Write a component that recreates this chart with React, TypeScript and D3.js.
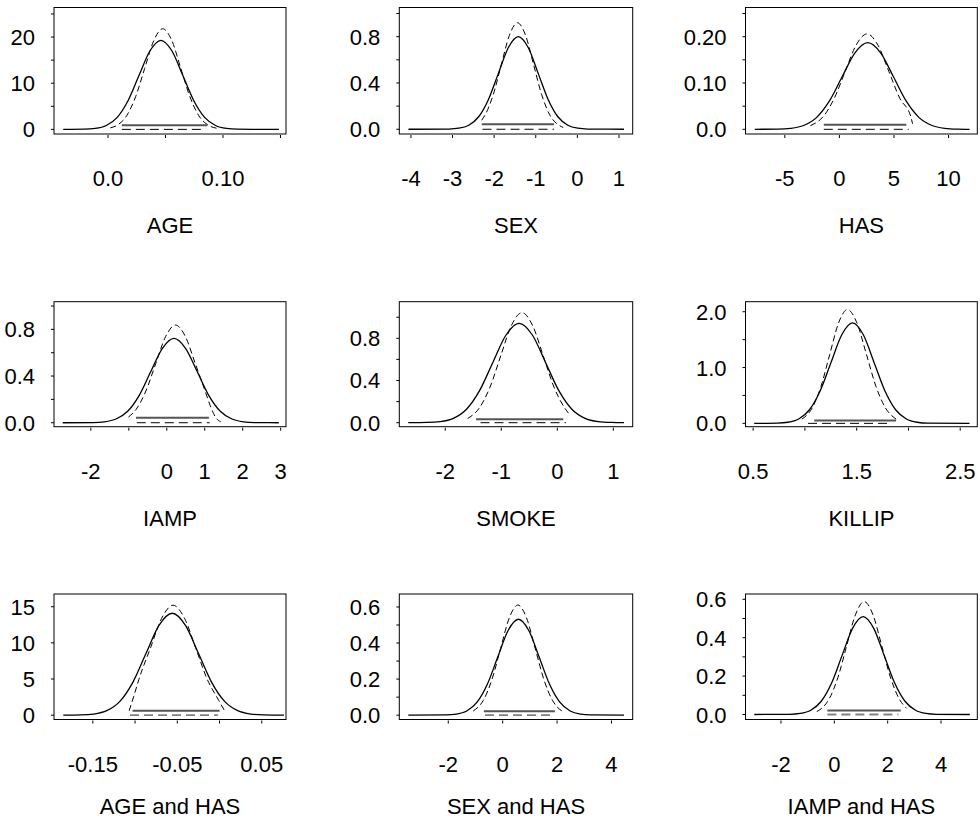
import React from "react";
import * as d3 from "d3";

// ---------- data ----------
const titles = ["AGE", "SEX", "HAS", "IAMP", "SMOKE", "KILLIP", "AGE and HAS", "SEX and HAS", "IAMP and HAS"];

const xDomains: [number, number][] = [
  [-0.047, 0.1548], [-4.28, 1.33], [-8.6, 12.63],
  [-2.97, 3.14], [-2.82, 1.346], [0.426, 2.665],
  [-0.196, 0.0787], [-3.8, 4.78], [-3.33, 5.36],
];
const yDomains: [number, number][] = [
  [-1.0, 26.4], [-0.041, 1.052], [-0.0101, 0.263],
  [-0.034, 1.037], [-0.038, 1.147], [-0.06, 2.18],
  [-0.6, 16.76], [-0.024, 0.672], [-0.026, 0.6276],
];
const xTicks: number[][] = [
  [0, 0.05, 0.1, 0.15], [-4, -3, -2, -1, 0, 1], [-5, 0, 5, 10],
  [-2, -1, 0, 1, 2, 3], [-2, -1, 0, 1], [0.5, 1, 1.5, 2, 2.5],
  [-0.15, -0.1, -0.05, 0, 0.05], [-2, 0, 2, 4], [-2, 0, 2, 4],
];
const xLabels: string[][] = [
  ["0.0", "0.10"], ["-4", "-3", "-2", "-1", "0", "1"], ["-5", "0", "5", "10"],
  ["-2", "0", "1", "2", "3"], ["-2", "-1", "0", "1"], ["0.5", "1.5", "2.5"],
  ["-0.15", "-0.05", "0.05"], ["-2", "0", "2", "4"], ["-2", "0", "2", "4"],
];
const yTicks: number[][] = [
  [0, 5, 10, 15, 20, 25], [0, 0.2, 0.4, 0.6, 0.8, 1.0], [0, 0.05, 0.1, 0.15, 0.2, 0.25],
  [0, 0.2, 0.4, 0.6, 0.8, 1.0], [0, 0.2, 0.4, 0.6, 0.8, 1.0], [0, 0.5, 1, 1.5, 2],
  [0, 5, 10, 15], [0, 0.1, 0.2, 0.3, 0.4, 0.5, 0.6], [0, 0.1, 0.2, 0.3, 0.4, 0.5, 0.6],
];
const yLabels: string[][] = [
  ["0", "10", "20"], ["0.0", "0.4", "0.8"], ["0.0", "0.10", "0.20"],
  ["0.0", "0.4", "0.8"], ["0.0", "0.4", "0.8"], ["0.0", "1.0", "2.0"],
  ["0", "5", "10", "15"], ["0.0", "0.2", "0.4", "0.6"], ["0.0", "0.2", "0.4", "0.6"],
];

type Pt = [number, number];

const ageSolid: Pt[] = [
  [-0.039, 0], [-0.0205, 0.04], [-0.011, 0.21], [-0.0015, 0.85], [0.008, 2.61], [0.0175, 6.27],
  [0.027, 11.71], [0.0365, 17.03], [0.046, 19.3], [0.0555, 17.03], [0.065, 11.71], [0.0745, 6.27],
  [0.084, 2.61], [0.0935, 0.85], [0.103, 0.21], [0.1125, 0.04], [0.1487, 0],
];
const ageDashed: Pt[] = [
  [0.002, 0.33], [0.0083, 0.96], [0.0162, 2.95], [0.024, 7.08], [0.0319, 13.22], [0.0398, 19.24],
  [0.0476, 21.8], [0.0555, 19.24], [0.0633, 13.22], [0.0712, 7.08], [0.079, 2.95], [0.0869, 0.96],
  [0.0947, 0.24],
];
const sexSolid: Pt[] = [
  [-4.06, 0], [-3.086, 0.0018], [-2.848, 0.0089], [-2.61, 0.0351], [-2.372, 0.108], [-2.134, 0.26],
  [-1.896, 0.485], [-1.658, 0.706], [-1.42, 0.8], [-1.182, 0.706], [-0.944, 0.485], [-0.706, 0.26],
  [-0.468, 0.108], [-0.23, 0.0351], [0.008, 0.0089], [0.246, 0.0018], [1.12, 0],
];
const sexDashed: Pt[] = [
  [-2.3, 0.078], [-2.216, 0.1245], [-2.022, 0.2987], [-1.828, 0.558], [-1.634, 0.812], [-1.44, 0.92],
  [-1.246, 0.812], [-1.052, 0.558], [-0.858, 0.2987], [-0.664, 0.1245], [-0.47, 0.0404], [-0.34, 0.0163],
];
const hasSolid: Pt[] = [
  [-7.75, 0], [-5.625, 0.0004], [-4.45, 0.0021], [-3.275, 0.0082], [-2.1, 0.0253], [-0.925, 0.0607],
  [0.25, 0.1134], [1.425, 0.165], [2.6, 0.187], [3.775, 0.165], [4.95, 0.1134], [6.125, 0.0607],
  [7.3, 0.0253], [8.475, 0.0082], [9.65, 0.0021], [10.825, 0.0004], [11.92, 0],
];
const hasDashed: Pt[] = [
  [-2.65, 0.008], [-1.47, 0.0279], [-0.47, 0.0669], [0.53, 0.1249], [1.53, 0.1818], [2.53, 0.206],
  [3.53, 0.1818], [4.53, 0.1249], [5.53, 0.0669], [6.53, 0.0279], [6.7, 0.012],
];
const iampSolid: Pt[] = [
  [-2.74, 0], [-1.945, 0.0016], [-1.64, 0.008], [-1.335, 0.0317], [-1.03, 0.0978], [-0.725, 0.2348],
  [-0.42, 0.4385], [-0.115, 0.638], [0.19, 0.723], [0.495, 0.638], [0.8, 0.4385], [1.105, 0.2348],
  [1.41, 0.0978], [1.715, 0.0317], [2.02, 0.008], [2.325, 0.0016], [2.95, 0],
];
const iampDashed: Pt[] = [
  [-1.01, 0.049], [-0.81, 0.1133], [-0.55, 0.2718], [-0.29, 0.5076], [-0.03, 0.7387], [0.23, 0.837],
  [0.49, 0.7387], [0.75, 0.5076], [1.01, 0.2718], [1.14, 0.15], [1.3, 0.04], [1.42, 0.008],
];
const smokeSolid: Pt[] = [
  [-2.66, 0], [-2.325, 0.0021], [-2.09, 0.0105], [-1.855, 0.0414], [-1.62, 0.1275], [-1.385, 0.3059],
  [-1.15, 0.5713], [-0.915, 0.8313], [-0.68, 0.942], [-0.445, 0.8313], [-0.21, 0.5713], [0.025, 0.3059],
  [0.26, 0.1275], [0.495, 0.0414], [0.73, 0.0105], [0.965, 0.0021], [1.19, 0],
];
const smokeDashed: Pt[] = [
  [-1.6, 0.04], [-1.39, 0.141], [-1.2, 0.3387], [-1.01, 0.6326], [-0.82, 0.9205], [-0.63, 1.043],
  [-0.44, 0.9205], [-0.25, 0.6326], [-0.06, 0.3387], [0.13, 0.141], [0.2, 0.09],
];
const killipSolid: Pt[] = [
  [0.51, 0], [0.732, 0.004], [0.836, 0.02], [0.94, 0.079], [1.044, 0.2435], [1.148, 0.5845],
  [1.252, 1.0917], [1.356, 1.5885], [1.46, 1.8], [1.564, 1.5885], [1.668, 1.0917], [1.772, 0.5845],
  [1.876, 0.2435], [1.98, 0.079], [2.084, 0.02], [2.188, 0.004], [2.59, 0],
];
const killipDashed: Pt[] = [
  [0.97, 0.075], [1.07, 0.276], [1.155, 0.662], [1.24, 1.237], [1.325, 1.8], [1.41, 2.04],
  [1.502, 1.8], [1.594, 1.237], [1.686, 0.662], [1.778, 0.276], [1.87, 0.09], [1.9, 0.05],
];
const ageHasSolid: Pt[] = [
  [-0.185, 0], [-0.1645, 0.031], [-0.149, 0.157], [-0.1335, 0.619], [-0.118, 1.908], [-0.1025, 4.578],
  [-0.087, 8.552], [-0.0715, 12.443], [-0.056, 14.1], [-0.0405, 12.443], [-0.025, 8.552], [-0.0095, 4.578],
  [0.006, 1.908], [0.0215, 0.619], [0.037, 0.157], [0.0525, 0.031], [0.0763, 0],
];
const ageHasDashed: Pt[] = [
  [-0.107, 0.6], [-0.1, 3.2], [-0.0955, 4.94], [-0.082, 9.22], [-0.0685, 13.41], [-0.055, 15.2],
  [-0.0415, 13.41], [-0.028, 9.22], [-0.0145, 4.94], [-0.001, 2.06], [0.007, 0.4],
];
const sexHasSolid: Pt[] = [
  [-3.47, 0], [-2.08, 0.0012], [-1.7, 0.0059], [-1.32, 0.0234], [-0.94, 0.072], [-0.56, 0.1727],
  [-0.18, 0.3227], [0.2, 0.4695], [0.58, 0.532], [0.96, 0.4695], [1.34, 0.3227], [1.72, 0.1727],
  [2.1, 0.072], [2.48, 0.0234], [2.86, 0.0059], [3.24, 0.0012], [4.46, 0],
];
const sexHasDashed: Pt[] = [
  [-1.08, 0.0237], [-0.71, 0.0827], [-0.3925, 0.1984], [-0.075, 0.3706], [0.2425, 0.5392], [0.56, 0.611],
  [0.8775, 0.5392], [1.195, 0.3706], [1.5125, 0.1984], [1.83, 0.0827], [2.1475, 0.0268], [2.23, 0.0208],
];
const iampHasSolid: Pt[] = [
  [-3.0, 0], [-1.6675, 0.0011], [-1.275, 0.0057], [-0.8825, 0.0224], [-0.49, 0.069], [-0.0975, 0.1656],
  [0.295, 0.3093], [0.6875, 0.4501], [1.08, 0.51], [1.4725, 0.4501], [1.865, 0.3093], [2.2575, 0.1656],
  [2.65, 0.069], [3.0425, 0.0224], [3.435, 0.0057], [3.8275, 0.0011], [5.08, 0],
];
const iampHasDashed: Pt[] = [
  [-0.66, 0.0154], [-0.5, 0.0292], [-0.2, 0.0796], [0.13, 0.1909], [0.46, 0.3566], [0.79, 0.5189],
  [1.12, 0.588], [1.45, 0.5189], [1.78, 0.3566], [2.11, 0.1909], [2.44, 0.0796], [2.71, 0.0322],
];

const solidCurves = [ageSolid, sexSolid, hasSolid, iampSolid, smokeSolid, killipSolid, ageHasSolid, sexHasSolid, iampHasSolid];
const dashedCurves = [ageDashed, sexDashed, hasDashed, iampDashed, smokeDashed, killipDashed, ageHasDashed, sexHasDashed, iampHasDashed];

// intervals: [from, to, height]
const solidIntervals: [number, number, number][] = [
  [0.012, 0.0864, 0.9], [-2.3, -0.56, 0.043], [-1.43, 6.13, 0.0099],
  [-0.81, 1.11, 0.043], [-1.45, 0.107, 0.032], [1.09, 1.88, 0.049],
  [-0.103, 0.0001, 0.6], [-0.69, 1.92, 0.022], [-0.26, 2.49, 0.0207],
];
const dashedIntervals: [number, number, number][] = [
  [0.012, 0.0843, 0], [-2.28, -0.56, 0], [-1.43, 6.35, 0],
  [-0.79, 1.13, 0], [-1.37, 0.155, 0], [1.03, 1.81, 0],
  [-0.106, -0.002, 0], [-0.65, 1.86, 0], [-0.26, 2.4, 0],
];

// ---------- layout ----------
const colLeft = [54, 399.3, 745.5];
const colRight = [286, 632.7, 977.3];
const rowTop = [7.5, 301.7, 594];
const rowBottom = [134, 426.7, 719.5];
const titleOffset = [98.7, 99, 94];
const FONT = "'Liberation Sans', Arial, Helvetica, sans-serif";
const FS = 22;

function Panel({ i }: { i: number }) {
  const r = Math.floor(i / 3);
  const c = i % 3;
  const L = colLeft[c], R = colRight[c], T = rowTop[r], B = rowBottom[r];
  const xs = d3.scaleLinear().domain(xDomains[i]).range([L, R]);
  const ys = d3.scaleLinear().domain(yDomains[i]).range([B, T]);
  const line = d3.line<Pt>().x((d) => xs(d[0])).y((d) => ys(d[1])).curve(d3.curveMonotoneX);
  const s = solidIntervals[i];
  const dd = dashedIntervals[i];
  const dashedCIColor = r === 2 ? "#808080" : "#000";
  const dashedCIWidth = r === 2 ? 1.8 : 1;
  return (
    <g>
      <rect x={L} y={T} width={R - L} height={B - T} fill="none" stroke="#000" strokeWidth={1} />
      {yTicks[i].map((t, k) => (
        <line key={"yt" + k} x1={L - 3} x2={L} y1={ys(t)} y2={ys(t)} stroke="#000" strokeWidth={1} />
      ))}
      {xTicks[i].map((t, k) => (
        <line key={"xt" + k} x1={xs(t)} x2={xs(t)} y1={B + 1} y2={B + 4} stroke="#000" strokeWidth={1} />
      ))}
      {yLabels[i].map((lab, k) => (
        <text key={"yl" + k} x={L - 19} y={ys(parseFloat(lab)) + 8} textAnchor="end" fontFamily={FONT} fontSize={FS} fill="#000">
          {lab}
        </text>
      ))}
      {xLabels[i].map((lab, k) => (
        <text key={"xl" + k} x={xs(parseFloat(lab))} y={B + 52} textAnchor="middle" fontFamily={FONT} fontSize={FS} fill="#000">
          {lab}
        </text>
      ))}
      <text x={(L + R) / 2} y={B + titleOffset[r]} textAnchor="middle" fontFamily={FONT} fontSize={FS} fill="#000">
        {titles[i]}
      </text>
      <path d={line(solidCurves[i]) || ""} fill="none" stroke="#000" strokeWidth={1.3} />
      <path d={line(dashedCurves[i]) || ""} fill="none" stroke="#000" strokeWidth={1} strokeDasharray="6,3.5" />
      <line x1={xs(s[0])} x2={xs(s[1])} y1={ys(s[2])} y2={ys(s[2])} stroke="#555" strokeWidth={2} />
      <line x1={xs(dd[0])} x2={xs(dd[1])} y1={ys(dd[2])} y2={ys(dd[2])} stroke={dashedCIColor} strokeWidth={dashedCIWidth} strokeDasharray="9,5" />
    </g>
  );
}

export default function App() {
  return (
    <svg width={980} height={820} style={{ position: "absolute", left: 0, top: 0, background: "#fff" }}>
      <rect x={0} y={0} width={980} height={820} fill="#fff" />
      {titles.map((_, i) => (
        <Panel key={i} i={i} />
      ))}
    </svg>
  );
}
